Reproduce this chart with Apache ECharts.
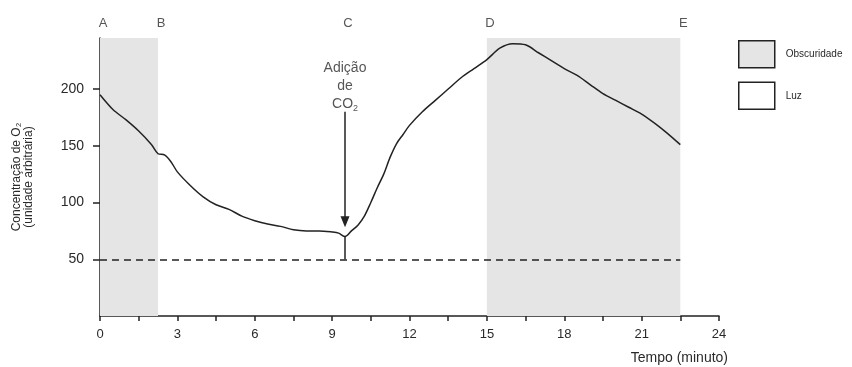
<!DOCTYPE html>
<html>
<head>
<meta charset="utf-8">
<script src="https://cdn.jsdelivr.net/npm/echarts@6/dist/echarts.min.js"></script>
<style>
  html, body { margin: 0; padding: 0; background: #fff; }
  #chart { width: 852px; height: 367px; }
</style>
</head>
<body>
<div id="chart"></div>
<script>
const times = [0, 0.5, 1, 1.5, 2, 2.25, 2.5, 2.75, 3, 3.5, 4, 4.5, 5, 5.5, 6, 6.5, 7, 7.5, 8, 8.5, 9, 9.25, 9.5, 9.75, 10, 10.25, 10.5, 10.75, 11, 11.25, 11.5, 11.75, 12, 12.5, 13, 13.5, 14, 14.5, 15, 15.5, 16, 16.5, 17, 17.5, 18, 18.5, 19, 19.5, 20, 20.5, 21, 21.5, 22, 22.5];
const o2 = [195, 182, 173, 163, 151, 143, 142, 136, 127, 115, 105, 98, 94, 88, 84, 81, 79, 76, 75, 75, 74, 73, 70, 75, 80, 88, 100, 113, 125, 140, 152, 160, 168, 180, 190, 200, 210, 218, 226, 236, 240, 239, 232, 225, 218, 212, 204, 196, 190, 184, 178, 170, 161, 151];
const darkPeriods = [[0, 2.25], [15, 22.5]];
const phaseLabels = ['A', 'B', 'C', 'D', 'E'];
const phaseTimes = [0, 2.25, 9.5, 15, 22.5];
const xTicks = [0, 1.5, 3, 4.5, 6, 7.5, 9, 10.5, 12, 13.5, 15, 16.5, 18, 19.5, 21, 22.5, 24];
const yTicks = [50, 100, 150, 200];

const ink = '#222';
const txt = '#2a2a2a';
const font = 'Liberation Sans';
const chart = echarts.init(document.getElementById('chart'));

const option = {
  animation: false,
  grid: { left: 100, right: 133, top: 38, bottom: 51 },
  legend: {
    orient: 'vertical',
    left: 733,
    top: 35,
    itemWidth: 36,
    itemHeight: 27,
    itemGap: 13,
    textStyle: { fontSize: 10, color: txt, fontFamily: font, padding: [0, 0, 0, 6] },
    data: [
      { name: 'Obscuridade', icon: 'rect', itemStyle: { color: '#e5e5e5', borderColor: ink, borderWidth: 1.5 } },
      { name: 'Luz', icon: 'rect', itemStyle: { color: '#fff', borderColor: ink, borderWidth: 1.5 } }
    ]
  },
  xAxis: {
    type: 'value',
    min: 0,
    max: 24,
    interval: 3,
    name: 'Tempo (minuto)',
    nameLocation: 'end',
    nameGap: 9,
    nameTextStyle: { align: 'right', verticalAlign: 'top', padding: [35, 0, 0, 0], fontSize: 14, color: txt, fontFamily: font },
    axisLine: { lineStyle: { color: ink, width: 1.5 } },
    axisTick: { length: 5, customValues: xTicks, lineStyle: { color: ink, width: 1.5 } },
    axisLabel: { fontSize: 13, color: txt, margin: 12, fontFamily: font },
    splitLine: { show: false }
  },
  yAxis: {
    type: 'value',
    min: 0,
    max: 245,
    interval: 50,
    name: 'Concentração de O₂\n(unidade arbitrária)',
    nameLocation: 'middle',
    nameGap: 65,
    nameTextStyle: { fontSize: 12, color: txt, lineHeight: 12, fontFamily: font },
    axisLine: { show: true, lineStyle: { color: ink, width: 1.5 } },
    axisTick: { show: true, length: 7, customValues: yTicks, lineStyle: { color: ink, width: 1.5 } },
    axisLabel: { fontSize: 14, color: txt, margin: 16, customValues: yTicks, fontFamily: font },
    splitLine: { show: false }
  },
  series: [
    {
      name: 'Obscuridade',
      type: 'line',
      data: [],
      markArea: {
        silent: true,
        itemStyle: { color: '#e5e5e5' },
        data: darkPeriods.map(p => [{ xAxis: p[0], yAxis: 0 }, { xAxis: p[1], yAxis: 245 }])
      }
    },
    { name: 'Luz', type: 'line', data: [] },
    {
      name: 'O2',
      type: 'line',
      data: times.map((t, i) => [t, o2[i]]),
      showSymbol: false,
      smooth: 0.3,
      lineStyle: { color: ink, width: 1.5 },
      z: 5,
      markLine: {
        silent: true,
        symbol: 'none',
        label: { show: false },
        data: [
          [{ coord: [0, 50], lineStyle: { type: [7, 5], color: ink, width: 1.5 } }, { coord: [22.5, 50] }],
          [{ coord: [9.5, 70], lineStyle: { type: 'solid', color: ink, width: 1.5 } }, { coord: [9.5, 50] }],
          [{ coord: [9.5, 180], symbol: 'none', lineStyle: { type: 'solid', color: ink, width: 1.5 } },
           { coord: [9.5, 83], symbol: 'triangle', symbolSize: [9, 11], symbolRotate: 180 }]
        ]
      }
    },
    {
      name: 'fases',
      type: 'scatter',
      clip: false,
      symbolSize: 0,
      silent: true,
      data: phaseTimes.map((t, i) => ({ value: [t, 258], name: phaseLabels[i] })),
      label: {
        show: true,
        position: 'inside',
        formatter: p => p.name,
        fontSize: 13,
        color: txt,
        fontFamily: font,
        offset: [3, 0]
      }
    },
    {
      name: 'co2',
      type: 'scatter',
      clip: false,
      symbolSize: 0,
      silent: true,
      data: [{ value: [9.5, 203], name: 'Adição\nde\nCO{s|2}' }],
      label: {
        show: true,
        position: 'inside',
        formatter: p => p.name,
        fontSize: 14,
        lineHeight: 18,
        color: txt,
        fontFamily: font,
        rich: { s: { fontSize: 9, verticalAlign: 'bottom', padding: [7, 0, 0, 0], color: txt, fontFamily: font } }
      }
    }
  ]
};
chart.setOption(option);
</script>
</body>
</html>
